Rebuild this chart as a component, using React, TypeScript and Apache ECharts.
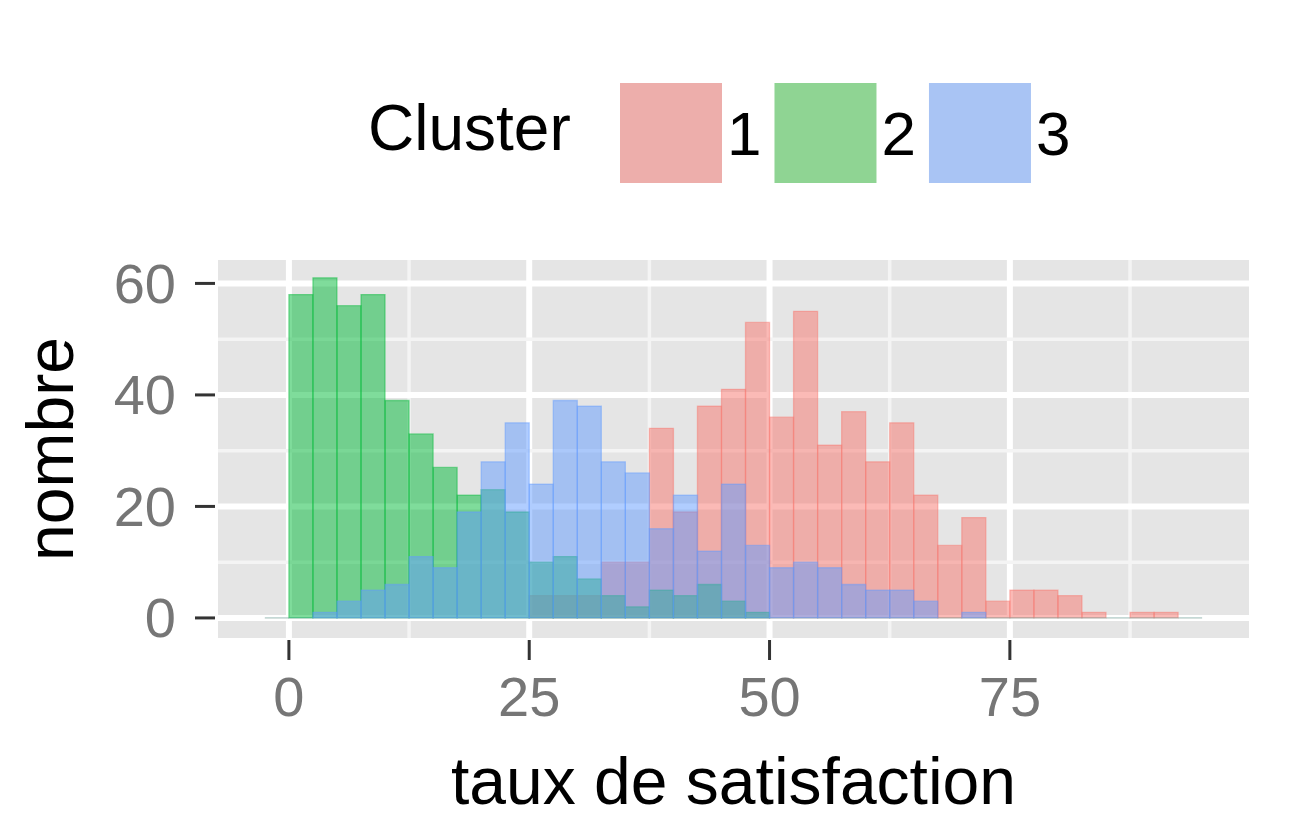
import React, { useEffect, useRef } from "react";
import * as echarts from "echarts";

// ---- Data ----
const binStart = [
  -2.5, 0, 2.5, 5, 7.5, 10, 12.5, 15, 17.5, 20, 22.5, 25, 27.5, 30, 32.5, 35, 37.5, 40, 42.5, 45,
  47.5, 50, 52.5, 55, 57.5, 60, 62.5, 65, 67.5, 70, 72.5, 75, 77.5, 80, 82.5, 85, 87.5, 90, 92.5,
];
const BIN_WIDTH = 2.5;
const cluster1 = [
  0, 0, 0, 0, 0, 0, 0, 0, 0, 0, 0, 4, 4, 4, 10, 10, 34, 19, 38, 41,
  53, 36, 55, 31, 37, 28, 35, 22, 13, 18, 3, 5, 5, 4, 1, 0, 1, 1, 0,
];
const cluster2 = [
  0, 58, 61, 56, 58, 39, 33, 27, 22, 23, 19, 10, 11, 7, 4, 2, 5, 4, 6, 3,
  1, 0, 0, 0, 0, 0, 0, 0, 0, 0, 0, 0, 0, 0, 0, 0, 0, 0, 0,
];
const cluster3 = [
  0, 0, 1, 3, 5, 6, 11, 9, 19, 28, 35, 24, 39, 38, 28, 26, 16, 22, 12, 24,
  13, 9, 10, 9, 6, 5, 5, 3, 0, 1, 0, 0, 0, 0, 0, 0, 0, 0, 0,
];
const clusterNames = ["1", "2", "3"];
const xTicks = [0, 25, 50, 75];
const xMinor = [12.5, 37.5, 62.5, 87.5];
const yTicks = [0, 20, 40, 60];
const yMinor = [10, 30, 50];

const X_MIN = -7.375;
const X_MAX = 99.875;
const Y_MIN = -3.6;
const Y_MAX = 64.2;

const hues = ["248,118,109", "0,186,56", "97,156,255"];
const keyColors = ["#EDAEAB", "#8FD493", "#A9C4F4"];

export default function App() {
  const ref = useRef<HTMLDivElement>(null);
  useEffect(() => {
    document.body.style.margin = "0";
    document.body.style.background = "#ffffff";
    const chart = echarts.init(ref.current!, null, { renderer: "svg" });
    const font = "'Liberation Sans', Arial, sans-serif";

    // [kind, value, major]; kind 0 = vertical grid, 1 = horizontal grid, 2 = x tick, 3 = y tick
    const gridData: number[][] = [];
    xTicks.forEach((v) => gridData.push([0, v, 1]));
    xMinor.forEach((v) => gridData.push([0, v, 0]));
    yTicks.forEach((v) => gridData.push([1, v, 1]));
    yMinor.forEach((v) => gridData.push([1, v, 0]));
    xTicks.forEach((v) => gridData.push([2, v, 1]));
    yTicks.forEach((v) => gridData.push([3, v, 1]));

    const sets = [cluster1, cluster2, cluster3];
    const barSeries = sets.map((vals, k) => ({
      name: clusterNames[k],
      type: "custom",
      z: 3 + k,
      itemStyle: { color: keyColors[k], borderWidth: 0 },
      encode: { x: [0, 1], y: 2 },
      data: binStart.map((s, i) => [s, s + BIN_WIDTH, vals[i]]),
      renderItem: (params: any, api: any) => {
        const x0 = api.value(0);
        const x1 = api.value(1);
        const v = api.value(2);
        const pTop = api.coord([x0, v]);
        const pBot = api.coord([x1, 0]);
        if (v === 0) {
          return {
            type: "line",
            shape: { x1: pTop[0], y1: pBot[1], x2: pBot[0], y2: pBot[1] },
            style: { stroke: `rgba(${hues[k]},0.25)`, lineWidth: 1 },
          };
        }
        return {
          type: "rect",
          shape: { x: pTop[0], y: pTop[1], width: pBot[0] - pTop[0], height: pBot[1] - pTop[1] },
          style: { fill: `rgba(${hues[k]},0.5)`, stroke: `rgba(${hues[k]},0.45)`, lineWidth: 1.3 },
        };
      },
    }));

    chart.setOption({
      animation: false,
      backgroundColor: "#ffffff",
      grid: {
        left: 218,
        right: 40,
        top: 260,
        bottom: 194,
        show: true,
        backgroundColor: "#E5E5E5",
        borderWidth: 0,
      },
      xAxis: {
        type: "value",
        min: X_MIN,
        max: X_MAX,
        splitLine: { show: false },
        axisLine: { show: false },
        axisTick: { show: false },
        axisLabel: {
          customValues: xTicks,
          fontSize: 56,
          color: "#767676",
          fontFamily: font,
          margin: 30,
        },
        name: "taux de satisfaction",
        nameLocation: "middle",
        nameGap: 110,
        nameTextStyle: { fontSize: 66, color: "#000", fontFamily: font },
      },
      yAxis: {
        type: "value",
        min: Y_MIN,
        max: Y_MAX,
        splitLine: { show: false },
        axisLine: { show: false },
        axisTick: { show: false },
        axisLabel: {
          customValues: yTicks,
          fontSize: 56,
          color: "#767676",
          fontFamily: font,
          margin: 42,
        },
        name: "nombre",
        nameLocation: "middle",
        nameRotate: 90,
        nameGap: 135,
        nameTextStyle: { fontSize: 66, color: "#000", fontFamily: font },
      },
      legend: {
        data: clusterNames.map((n, k) => ({ name: n, itemStyle: { color: keyColors[k], borderWidth: 0 } })),
        left: 615,
        top: 78,
        orient: "horizontal",
        icon: "rect",
        itemWidth: 102,
        itemHeight: 100,
        itemGap: 13,
        itemStyle: { borderWidth: 0 },
        textStyle: { fontSize: 62, color: "#000", fontFamily: font },
        selectedMode: false,
      },
      graphic: [
        {
          type: "text",
          left: 368,
          top: 96,
          style: { text: "Cluster", fontSize: 64, fill: "#000", fontFamily: font },
        },
      ],
      series: [
        {
          type: "custom",
          name: "grid",
          z: 1,
          silent: true,
          clip: false,
          data: gridData,
          encode: { x: 1 },
          renderItem: (params: any, api: any) => {
            const kind = api.value(0);
            const v = api.value(1);
            const major = api.value(2) === 1;
            if (kind === 2) {
              const p = api.coord([v, Y_MIN]);
              return {
                type: "line",
                shape: { x1: p[0], y1: p[1] + 2, x2: p[0], y2: p[1] + 22 },
                style: { stroke: "#333333", lineWidth: 3 },
              };
            }
            if (kind === 3) {
              const p = api.coord([X_MIN, v]);
              return {
                type: "line",
                shape: { x1: p[0] - 23, y1: p[1], x2: p[0] - 3, y2: p[1] },
                style: { stroke: "#333333", lineWidth: 3 },
              };
            }
            let a, b;
            if (kind === 0) {
              a = api.coord([v, Y_MIN]);
              b = api.coord([v, Y_MAX]);
            } else {
              a = api.coord([X_MIN, v]);
              b = api.coord([X_MAX, v]);
            }
            return {
              type: "line",
              shape: { x1: a[0], y1: a[1], x2: b[0], y2: b[1] },
              style: { stroke: major ? "#ffffff" : "#F4F4F4", lineWidth: major ? 6 : 3.5 },
            };
          },
        },
        ...barSeries,
      ],
    });
    return () => chart.dispose();
  }, []);
  return <div ref={ref} style={{ width: 1289, height: 832 }} />;
}
